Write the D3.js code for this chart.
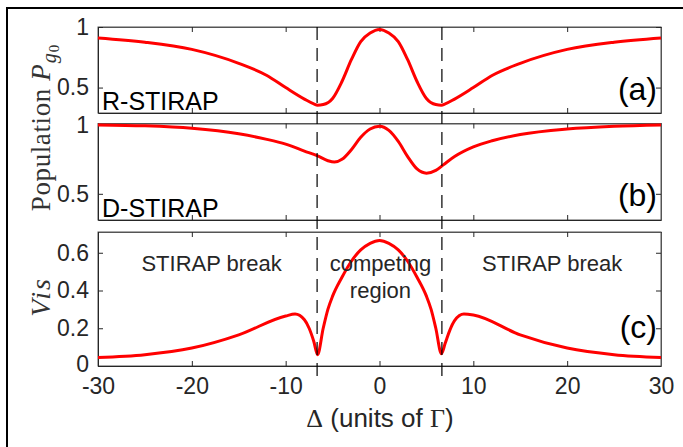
<!DOCTYPE html>
<html><head><meta charset="utf-8">
<script src="https://cdn.jsdelivr.net/npm/d3@7"></script>
<style>body{margin:0;background:#fff} svg{display:block}</style>
</head><body>
<svg id="chart" width="683" height="447"></svg>
<script>
// ---- data ----
const xTicks = [-30, -20, -10, 0, 10, 20, 30];
const dashedAt = [-6.65, 6.65];

const deltaA = [-30,-25,-20,-15,-12,-10,-8,-7,-6.6,-6,-5,-4,-3,-2,-1,0,1,2,3,4,5,6,6.6,7,8,10,12,15,20,25,30];
const popA   = [0.91,0.875,0.815,0.70,0.60,0.50,0.405,0.365,0.355,0.36,0.41,0.55,0.73,0.88,0.95,0.98,0.95,0.88,0.73,0.55,0.41,0.36,0.355,0.365,0.405,0.50,0.60,0.70,0.815,0.875,0.91];

const deltaB = [-30,-25,-20,-15,-12,-10,-8,-6.6,-5.5,-4.8,-4,-3,-2,-1,0,1,2,3,4,5,6,6.8,8,10,12,15,20,25,30];
const popB   = [1.0,0.993,0.975,0.935,0.895,0.86,0.81,0.775,0.74,0.73,0.75,0.82,0.91,0.97,0.99,0.96,0.88,0.77,0.68,0.65,0.67,0.71,0.77,0.84,0.885,0.93,0.97,0.99,1.0];

const deltaC = [-30,-25,-20,-15,-10,-9,-8,-7.5,-7,-6.6,-6,-5.5,-5,-4,-3,-2,-1,0,1,2,3,4,5,5.5,6,6.6,7,7.5,8,9,10,15,20,25,30];
const vis    = [0.045,0.06,0.095,0.165,0.265,0.275,0.245,0.2,0.13,0.06,0.2,0.3,0.37,0.47,0.555,0.615,0.65,0.665,0.65,0.615,0.555,0.47,0.37,0.3,0.2,0.065,0.12,0.19,0.24,0.275,0.27,0.165,0.095,0.06,0.045];

const yTicksA = [0.5, 1];
const yTicksB = [0.5, 1];
const yTicksC = [0, 0.2, 0.4, 0.6];

const svg = d3.select("#chart");
const left = 98, right = 661;
const x = d3.scaleLinear().domain([-30, 30]).range([left, right]);

const panels = [
  {xs: deltaA, ys: popA, domain: [0.29, 1], top: 27, bottom: 113, ticks: yTicksA, fmt: d => d === 1 ? "1" : d3.format(".1f")(d), tag: "(a)", tagDy: 13, name: "R-STIRAP"},
  {xs: deltaB, ys: popB, domain: [0.31, 1.01], top: 123.5, bottom: 220, ticks: yTicksB, fmt: d => d === 1 ? "1" : d3.format(".1f")(d), tag: "(b)", tagDy: 14, name: "D-STIRAP"},
  {xs: deltaC, ys: vis, domain: [0, 0.71], top: 232, bottom: 366, ticks: yTicksC, fmt: d => d === 0 ? "0" : d3.format(".1f")(d), tag: "(c)", tagDy: 28, name: null}
];

// outer frame (left and top)
svg.append("path").attr("d", "M7,447 L7,8 L683,8").attr("fill", "none").attr("stroke", "#000").attr("stroke-width", 2);

const axisColor = "#262626";
const sans = "'Liberation Sans', Arial, sans-serif";
const serif = "'Liberation Serif', 'Times New Roman', serif";

panels.forEach((p, i) => {
  const y = d3.scaleLinear().domain(p.domain).range([p.bottom, p.top]);
  p.y = y;
  const g = svg.append("g");
  g.append("rect").attr("x", left).attr("y", p.top).attr("width", right - left).attr("height", p.bottom - p.top)
    .attr("fill", "none").attr("stroke", "#555").attr("stroke-width", 1);
  const bx = g.append("g").attr("transform", `translate(0,${p.bottom})`)
    .call(d3.axisBottom(x).tickValues(xTicks).tickSize(-5).tickSizeOuter(0).tickPadding(12)
      .tickFormat(i === 2 ? (d => String(d)) : ""));
  const tx = g.append("g").attr("transform", `translate(0,${p.top})`)
    .call(d3.axisTop(x).tickValues(xTicks).tickSize(-5).tickSizeOuter(0).tickFormat(""));
  const ly = g.append("g").attr("transform", `translate(${left},0)`)
    .call(d3.axisLeft(y).tickValues(p.ticks).tickSize(-5).tickSizeOuter(0).tickPadding(9).tickFormat(p.fmt));
  const ry = g.append("g").attr("transform", `translate(${right},0)`)
    .call(d3.axisRight(y).tickValues(p.ticks).tickSize(-5).tickSizeOuter(0).tickFormat(""));
  [tx, ry].forEach(a => a.select(".domain").attr("stroke", "#555"));
  [bx, ly].forEach(a => a.select(".domain").attr("stroke", axisColor));
  [bx, tx, ly, ry].forEach(a => {
    a.selectAll(".tick line").attr("stroke", axisColor);
    a.selectAll("text").attr("fill", axisColor).style("font-family", sans).style("font-size", "23px");
  });
  if (i === 2) ly.selectAll(".tick text").filter(d => d === 0).attr("dy", "0.22em");
  const line = d3.line().x((d, k) => x(p.xs[k])).y(d => y(d)).curve(d3.curveMonotoneX);
  g.append("path").attr("d", line(p.ys)).attr("fill", "none").attr("stroke", "#ff0000").attr("stroke-width", 3);
  g.append("text").attr("x", 657).attr("y", p.bottom - p.tagDy).attr("text-anchor", "end")
    .style("font-family", sans).style("font-size", "32px").attr("fill", "#000").text(p.tag);
  if (p.name) {
    g.append("text").attr("x", 102).attr("y", p.bottom - 3)
      .style("font-family", sans).style("font-size", "25px").attr("fill", "#000").text(p.name);
  }
});

// dashed lines
dashedAt.forEach(v => {
  svg.append("line").attr("x1", x(v)).attr("x2", x(v)).attr("y1", 27).attr("y2", 381)
    .attr("stroke", "#000").attr("stroke-width", 1.2).attr("stroke-dasharray", "13,8");
});

// region annotations in panel (c)
const ann = [
  {v: -17.9, yy: 271, t: "STIRAP break"},
  {v: 0.1, yy: 271, t: "competing"},
  {v: 0.1, yy: 298, t: "region"},
  {v: 18.4, yy: 271, t: "STIRAP break"}
];
ann.forEach(a => {
  svg.append("text").attr("x", x(a.v)).attr("y", a.yy).attr("text-anchor", "middle")
    .style("font-family", sans).style("font-size", "22px").attr("fill", "#262626").text(a.t);
});

// y-axis labels
const ylab = svg.append("text").attr("transform", "translate(50,128) rotate(-90)").attr("text-anchor", "middle")
  .style("font-family", serif).style("font-size", "27px").attr("fill", "#333");
ylab.append("tspan").style("letter-spacing", "0.6px").text("Population ");
ylab.append("tspan").style("font-style", "italic").text("P");
ylab.append("tspan").attr("dy", 6).attr("dx", 1).style("font-style", "italic").style("font-size", "20px").text("g");
ylab.append("tspan").attr("dy", 3).attr("dx", 1).style("font-size", "15px").text("0");

svg.append("text").attr("transform", "translate(50,297) rotate(-90)").attr("text-anchor", "middle")
  .style("font-family", serif).style("font-style", "italic").style("font-size", "28px").style("letter-spacing", "2px")
  .attr("fill", "#333").text("Vis");

// x-axis label
const xlab = svg.append("text").attr("x", 380).attr("y", 427).attr("text-anchor", "middle")
  .style("font-family", sans).style("font-size", "26px").attr("fill", "#262626");
xlab.append("tspan").style("font-family", serif).text("Δ");
xlab.append("tspan").text(" (units of ");
xlab.append("tspan").style("font-family", serif).text("Γ");
xlab.append("tspan").text(")");
</script>
</body></html>
